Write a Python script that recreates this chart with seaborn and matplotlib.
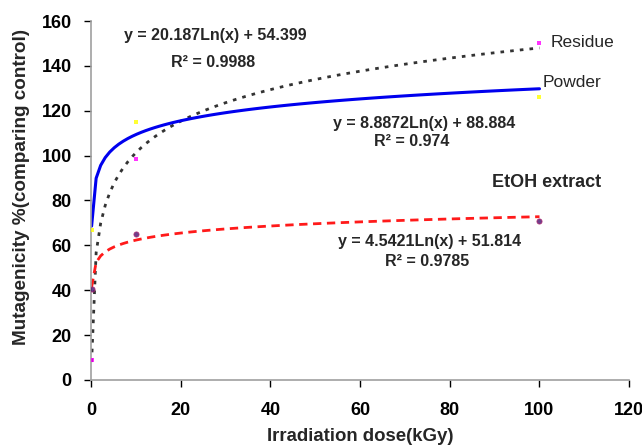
import numpy as np
import pandas as pd
import seaborn as sns
import matplotlib.pyplot as plt

# dose levels (kGy); the "0" dose is plotted at 0.1 so the log trendline works
dose = [0.1, 10, 100]
residue = [9.0, 98.3, 150.0]
powder = [66.7, 115.1, 126.0]
etoh = [40.6, 65.0, 71.0]

eq_residue = ["y = 20.187Ln(x) + 54.399", "R² = 0.9988"]
eq_powder = ["y = 8.8872Ln(x) + 88.884", "R² = 0.974"]
eq_etoh = ["y = 4.5421Ln(x) + 51.814", "R² = 0.9785"]

xticks = [0, 20, 40, 60, 80, 100, 120]
yticks = [0, 20, 40, 60, 80, 100, 120, 140, 160]

df = pd.DataFrame({"dose": dose, "Residue": residue, "Powder": powder, "EtOH": etoh})

sns.set_style("white")
plt.rcParams['font.family'] = ['Liberation Sans', 'DejaVu Sans']

fig = plt.figure(figsize=(6.42, 4.47), dpi=100)
ax = fig.add_axes([0.142, 0.150, 0.838, 0.803])

# Residue: dotted black trend, magenta squares
sns.regplot(x="dose", y="Residue", data=df, logx=True, ci=None, ax=ax, marker="s",
            scatter_kws={"color": "#ff00ff", "s": 12, "zorder": 3, "linewidths": 0},
            line_kws={"color": "#333333", "lw": 2, "linestyle": (0, (1.3, 2.2))})
# Powder: solid blue trend, yellow squares
sns.regplot(x="dose", y="Powder", data=df, logx=True, ci=None, ax=ax, marker="s",
            scatter_kws={"color": "#ffff00", "s": 10, "zorder": 3, "linewidths": 0},
            line_kws={"color": "#0000ee", "lw": 2.2})
# EtOH extract: red dashed trend, purple dots
sns.regplot(x="dose", y="EtOH", data=df, logx=True, ci=None, ax=ax, marker="o",
            scatter_kws={"color": "#4a1070", "s": 14, "zorder": 3,
                         "edgecolors": "#b0206a", "linewidths": 0.6},
            line_kws={"color": "#ff1a1a", "lw": 2, "linestyle": (0, (3, 2))})

ax.set_xlim(0, 120)
ax.set_ylim(0, 160)
ax.set_xticks(xticks)
ax.set_yticks(yticks)
ax.tick_params(axis="both", labelsize=13, colors="black", length=5, width=1,
               direction="out", left=True, bottom=True)
ax.tick_params(axis="x", pad=11)
ax.tick_params(axis="y", pad=9)
for lab in ax.get_xticklabels() + ax.get_yticklabels():
    lab.set_fontweight("bold")

sns.despine(ax=ax)
for side in ["left", "bottom"]:
    ax.spines[side].set_color("#a0a0a0")
    ax.spines[side].set_linewidth(1.2)

ax.set_xlabel("Irradiation dose(kGy)", fontsize=13.4, fontweight="bold")
ax.set_ylabel("Mutagenicity %(comparing control)", fontsize=13.6, fontweight="bold")
ax.xaxis.set_label_coords(0.5, -0.135)
ax.yaxis.set_label_coords(-0.113, 0.538)

bold = dict(fontsize=11.5, fontweight="bold", ha="center", va="center")
ax.text(27.7, 153.7, eq_residue[0], **bold)
ax.text(27.2, 141.3, eq_residue[1], **bold)
ax.text(74.3, 114.5, eq_powder[0], **bold)
ax.text(71.6, 106.1, eq_powder[1], **bold)
ax.text(75.4, 61.9, eq_etoh[0], **bold)
ax.text(74.9, 52.6, eq_etoh[1], **bold)

ax.text(102.4, 150.2, "Residue", fontsize=12.5, ha="left", va="center")
ax.text(100.8, 132.4, "Powder", fontsize=12.5, ha="left", va="center")
ax.text(89.4, 87.8, "EtOH extract", fontsize=13, fontweight="bold", ha="left", va="center")

plt.savefig("out.png", dpi=100)
plt.close()
